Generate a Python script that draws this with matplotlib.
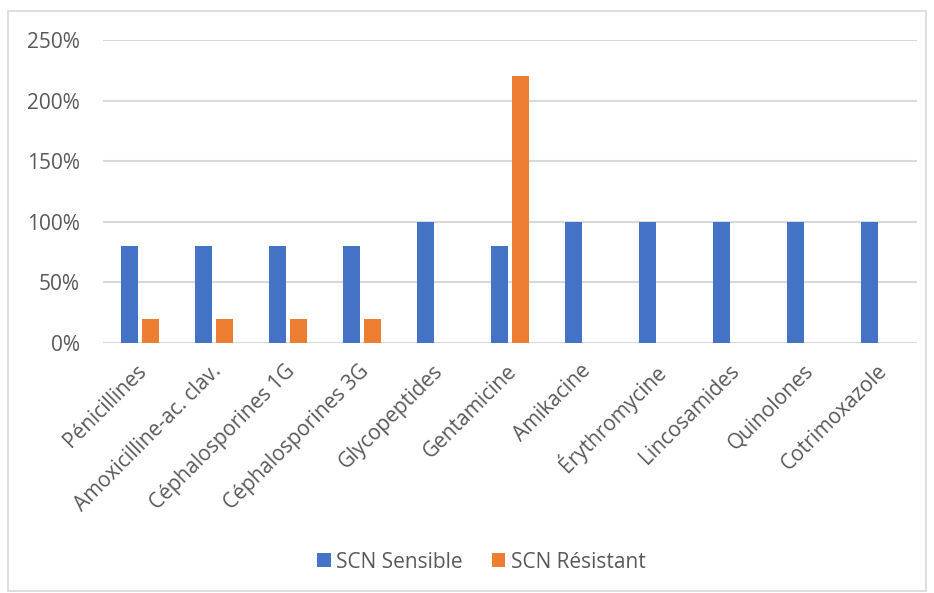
import numpy as np
import matplotlib
matplotlib.use("Agg")
import matplotlib.pyplot as plt
from matplotlib.patches import Rectangle
from matplotlib.ticker import FuncFormatter
from matplotlib.transforms import ScaledTranslation

categories = ["Pénicillines", "Amoxicilline-ac. clav.", "Céphalosporines 1G",
              "Céphalosporines 3G", "Glycopeptides", "Gentamicine", "Amikacine",
              "Érythromycine", "Lincosamides", "Quinolones", "Cotrimoxazole"]
sensible = [0.80, 0.80, 0.80, 0.80, 1.00, 0.80, 1.00, 1.00, 1.00, 1.00, 1.00]
resistant = [0.20, 0.20, 0.20, 0.20, 0.0, 2.20, 0.0, 0.0, 0.0, 0.0, 0.0]

plt.rcParams["font.family"] = ["Open Sans", "DejaVu Sans"]
text_color = "#595959"

fig = plt.figure(figsize=(9.34, 5.93), dpi=100)
ax = fig.add_axes([0.110, 0.4216, 0.872, 0.511])

x = np.arange(len(categories))
w = 0.23
ax.bar(x - 0.142, sensible, w, color="#4472C4", label="SCN Sensible", zorder=3)
ax.bar(x + 0.142, resistant, w, color="#ED7D31", label="SCN Résistant", zorder=3)

ax.set_xlim(-0.5, len(categories) - 0.5)
ax.set_ylim(0, 2.5)
ax.set_yticks(np.arange(0, 2.51, 0.5))
ax.yaxis.set_major_formatter(FuncFormatter(lambda v, _: f"{v*100:.0f}%"))
ax.grid(axis="y", color="#D9D9D9", linewidth=1.5, zorder=0)
for s in ax.spines.values():
    s.set_visible(False)
ax.tick_params(length=0, labelsize=15, labelcolor=text_color)
ax.tick_params(axis="y", pad=16.5)
ax.set_xticks(x)
ax.set_xticklabels(categories, rotation=45, ha="right", va="center",
                   rotation_mode="anchor")
ax.tick_params(axis="x", pad=18)
shift = ScaledTranslation(4 / 100, 0, fig.dpi_scale_trans)
for lbl in ax.get_xticklabels():
    lbl.set_transform(lbl.get_transform() + shift)

fig.legend(loc="center", bbox_to_anchor=(0.515, 0.052), ncol=2, frameon=False,
           fontsize=15, labelcolor=text_color, handlelength=0.67, handleheight=0.67,
           handletextpad=0.25, columnspacing=1.4)

# light frame around the whole chart
fig.patches.append(Rectangle((0.009, 0.004), 0.982, 0.9775, transform=fig.transFigure,
                             fill=False, edgecolor="#D9D9D9", linewidth=1.2))

fig.savefig("out.png", dpi=100)
